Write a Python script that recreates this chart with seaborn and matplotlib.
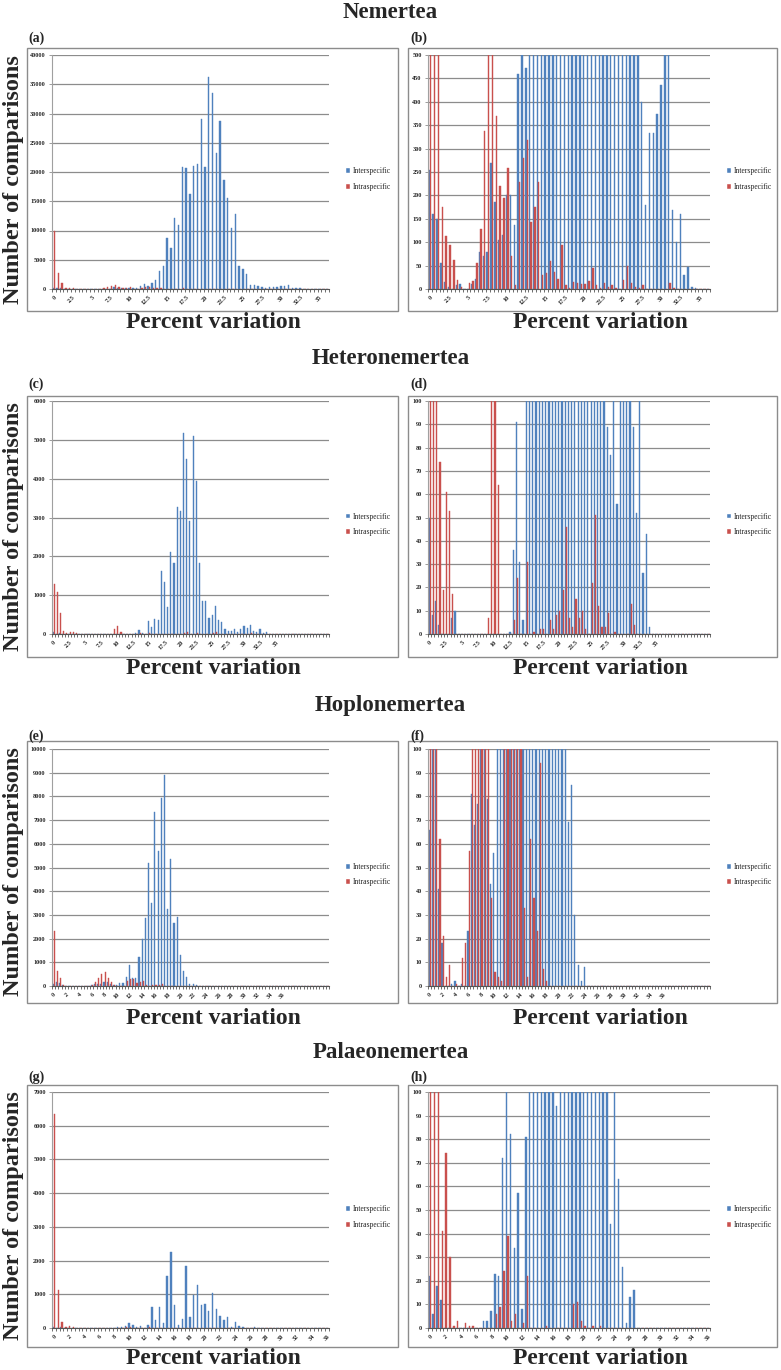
import numpy as np
import pandas as pd
import matplotlib
matplotlib.use("Agg")
import matplotlib.pyplot as plt
import seaborn as sns

# ------------------------------------------------------------------
# data: number of pairwise comparisons per 0.5 % bin
# ------------------------------------------------------------------
bins_36 = np.arange(0, 36.5, 0.5)   # 73 bins (Nemertea, Palaeonemertea)
bins_43 = np.arange(0, 43.5, 0.5)   # 87 bins (Heteronemertea, Hoplonemertea)

nem_inter = [255, 160, 150, 55, 15, 5, 0, 8, 10, 0,
             0, 10, 22, 80, 70, 78, 270, 185, 105, 115,
             200, 200, 137, 460, 800, 472, 1100, 1600, 3000, 4000,
             8700, 7000, 12100, 10900, 20900, 20700, 16200, 21000, 21300, 29000,
             20900, 36300, 33500, 23300, 28800, 18700, 15600, 10500, 12800, 4000,
             3500, 2600, 700, 600, 550, 400, 180, 333, 333, 375,
             435, 560, 620, 168, 100, 160, 30, 48, 5, 2,
             0, 0, 0]
nem_intra = [10000, 2800, 1000, 175, 113, 93, 62, 20, 5, 0,
             12, 18, 55, 128, 338, 560, 600, 370, 220, 195,
             258, 70, 8, 228, 280, 318, 143, 175, 228, 30,
             35, 60, 37, 22, 95, 8, 3, 15, 12, 10,
             10, 18, 45, 8, 3, 12, 5, 8, 2, 0,
             20, 50, 12, 5, 3, 8, 0, 0, 0, 0,
             0, 0, 12, 3, 0, 0, 0, 0, 0, 0,
             0, 0, 0]

het_inter = [50, 8, 14, 4, 0, 0, 0, 7, 10, 0,
             0, 0, 0, 0, 0, 0, 0, 0, 0, 0,
             0, 0, 0, 0, 0, 1, 36, 91, 31, 6,
             330, 170, 380, 360, 1620, 1350, 700, 2100, 1820, 3270,
             3180, 5170, 4500, 2900, 5090, 3940, 1830, 860, 850, 400,
             490, 720, 360, 300, 120, 89, 77, 120, 56, 130,
             200, 150, 240, 89, 52, 140, 26, 43, 3, 0,
             0, 0, 0, 0, 0, 0, 0, 0, 0, 0,
             0, 0, 0, 0, 0, 0, 0]
het_intra = [1290, 1080, 540, 74, 19, 61, 53, 17, 0, 0,
             0, 0, 0, 0, 0, 0, 0, 0, 7, 130,
             200, 64, 0, 0, 0, 0, 6, 24, 0, 0,
             31, 0, 1, 0, 2, 2, 0, 6, 2, 8,
             10, 19, 46, 7, 3, 15, 7, 10, 2, 0,
             22, 51, 12, 3, 3, 9, 0, 1, 0, 0,
             0, 0, 13, 4, 0, 0, 0, 0, 0, 0,
             0, 0, 0, 0, 0, 0, 0, 0, 0, 0,
             0, 0, 0, 0, 0, 0, 0]

hop_inter = [66, 150, 120, 41, 18, 0, 0, 1, 2, 0,
             1, 0, 23, 81, 68, 77, 150, 180, 79, 43,
             56, 110, 130, 380, 870, 350, 330, 1230, 2000, 2850,
             5200, 3500, 7350, 5700, 7950, 8900, 3250, 5350, 2650, 2920,
             1300, 620, 380, 69, 85, 30, 9, 2, 8, 0,
             0, 0, 0, 0, 0, 0, 0, 0, 0, 0,
             0, 0, 0, 0, 0, 0, 0, 0, 0, 0,
             0, 0, 0, 0, 0, 0, 0, 0, 0, 0,
             0, 0, 0, 0, 0, 0, 0]
hop_intra = [2300, 620, 350, 62, 21, 4, 9, 0, 1, 0,
             12, 18, 57, 150, 330, 520, 600, 350, 180, 37,
             6, 4, 2, 220, 300, 280, 140, 180, 210, 33,
             4, 62, 37, 23, 94, 7, 2, 0, 0, 0,
             0, 0, 0, 0, 0, 0, 0, 0, 0, 0,
             0, 0, 0, 0, 0, 0, 0, 0, 0, 0,
             0, 0, 0, 0, 0, 0, 0, 0, 0, 0,
             0, 0, 0, 0, 0, 0, 0, 0, 0, 0,
             0, 0, 0, 0, 0, 0, 0]

pal_inter = [22, 6, 18, 12, 0, 0, 0, 0, 0, 0,
             0, 0, 0, 0, 3, 3, 7, 23, 22, 72,
             140, 82, 34, 57, 8, 81, 610, 230, 630, 150,
             1540, 2250, 690, 94, 260, 1830, 340, 980, 1270, 690,
             710, 500, 1050, 570, 350, 230, 320, 44, 180, 63,
             26, 2, 13, 16, 0, 0, 0, 0, 0, 0,
             0, 0, 0, 0, 0, 0, 0, 0, 0, 0,
             0, 0, 0]
pal_intra = [6350, 1130, 170, 41, 74, 30, 1, 3, 0, 2,
             1, 1, 0, 0, 0, 0, 0, 6, 9, 24,
             39, 3, 6, 0, 2, 22, 0, 0, 0, 0,
             1, 0, 0, 0, 0, 0, 0, 10, 11, 3,
             1, 0, 1, 0, 1, 0, 0, 0, 0, 0,
             0, 0, 0, 0, 0, 0, 0, 0, 0, 0,
             0, 0, 0, 0, 0, 0, 0, 0, 0, 0,
             0, 0, 0]

labels_25 = ["0", "2.5", "5", "7.5", "10", "12.5", "15", "17.5", "20",
             "22.5", "25", "27.5", "30", "32.5", "35"]
labels_2 = [str(v) for v in range(0, 37, 2)]

groups = ["Nemertea", "Heteronemertea", "Hoplonemertea", "Palaeonemertea"]
series_names = ["Interspecific", "Intraspecific"]
colors = {"Interspecific": "#4f81bd", "Intraspecific": "#c9504d"}

# ------------------------------------------------------------------
# layout (pixels)
# ------------------------------------------------------------------
W, H = 781, 1370
sns.set_theme(style="white")
plt.rcParams["font.family"] = ["Liberation Serif", "DejaVu Serif"]

fig = plt.figure(figsize=(W / 100, H / 100), dpi=100)


def fbox(l, t, r, b):
    return [l / W, 1 - b / H, (r - l) / W, (b - t) / H]


rows = [
    # title y, panel-label y, frame top/bottom, plot top/bottom, xlabel y
    dict(title=12, lab=38, ft=48, fb=311, pt=55, pb=289, xl=323),
    dict(title=358, lab=384, ft=396, fb=657, pt=401, pb=634, xl=669),
    dict(title=706, lab=736, ft=741, fb=1003, pt=749, pb=986, xl=1018),
    dict(title=1052, lab=1077, ft=1085, fb=1347, pt=1092, pb=1328, xl=1358),
]

panels = [
    (nem_inter, nem_intra, bins_36, labels_25, 5, [40000, 500], [5000, 50]),
    (het_inter, het_intra, bins_43, labels_25, 5, [6000, 100], [1000, 10]),
    (hop_inter, hop_intra, bins_43, labels_2, 4, [10000, 100], [1000, 10]),
    (pal_inter, pal_intra, bins_36, labels_2, 4, [7000, 100], [1000, 10]),
]

letters = "abcdefgh"
cols = [
    dict(fl=27, fr=398, pl=52, pr=329, lab=28, xl=213),
    dict(fl=408, fr=777, pl=428, pr=710, lab=410, xl=600),
]

for r, (row, panel) in enumerate(zip(rows, panels)):
    inter, intra, bins, tlabels, step, ymaxes, ysteps = panel
    df = pd.DataFrame({
        "bin": np.concatenate([bins, bins]),
        "count": inter + intra,
        "series": ["Interspecific"] * len(bins) + ["Intraspecific"] * len(bins),
    })
    fig.text(0.5, 1 - row["title"] / H, groups[r], ha="center", va="center",
             fontsize=16.5, fontweight="bold")

    for c, col in enumerate(cols):
        # chart-area border
        fig.add_artist(plt.Rectangle((col["fl"] / W, 1 - row["fb"] / H),
                                     (col["fr"] - col["fl"]) / W,
                                     (row["fb"] - row["ft"]) / H,
                                     transform=fig.transFigure, fill=False,
                                     edgecolor="#8c8c8c", lw=1.0))
        fig.text(col["lab"] / W, 1 - row["lab"] / H, f"({letters[2 * r + c]})",
                 ha="left", va="center", fontsize=10, fontweight="bold")
        fig.text(col["xl"] / W, 1 - row["xl"] / H, "Percent variation",
                 ha="center", va="center", fontsize=17, fontweight="bold")

        ax = fig.add_axes(fbox(col["pl"], row["pt"], col["pr"], row["pb"]))
        sns.barplot(data=df, x="bin", y="count", hue="series",
                    hue_order=series_names, palette=colors, width=0.72,
                    saturation=1, linewidth=0.3, errorbar=None, ax=ax)
        for patch in ax.patches:
            patch.set_edgecolor(patch.get_facecolor())

        n = len(bins)
        ymax, ystep = ymaxes[c], ysteps[c]
        ax.set_xlim(-0.5, n - 0.5)
        ax.set_ylim(0, ymax)
        ax.set_yticks(np.arange(0, ymax + 1, ystep))
        ax.set_yticklabels([str(int(v)) for v in np.arange(0, ymax + 1, ystep)],
                           fontsize=4.5, fontweight="bold")
        ax.set_xticks(np.arange(0, step * len(tlabels), step))
        ax.set_xticklabels(tlabels, rotation=45, ha="right",
                           rotation_mode="anchor", fontsize=4.5, fontweight="bold")
        ax.set_xticks(np.arange(-0.5, n, 1), minor=True)
        ax.tick_params(axis="x", which="major", length=0, pad=4)
        ax.tick_params(axis="x", which="minor", length=2.5, width=0.6,
                       color="#555555", bottom=True)
        ax.tick_params(axis="y", which="major", length=2.5, width=0.6,
                       color="#8c8c8c", left=True, pad=2)
        ax.yaxis.grid(True, color="#8c8c8c", lw=0.9)
        ax.set_axisbelow(True)
        ax.set_xlabel("")
        ax.set_ylabel("")
        ax.set_facecolor("white")
        for s in ["top", "right"]:
            ax.spines[s].set_visible(False)
        ax.spines["left"].set_color("#a0a0a0")
        ax.spines["left"].set_linewidth(0.8)
        ax.spines["bottom"].set_color("#555555")
        ax.spines["bottom"].set_linewidth(0.8)

        sns.move_legend(ax, "center left", bbox_to_anchor=(1.035, 0.47),
                        frameon=False, title=None, fontsize=5.5,
                        handlelength=0.6, handleheight=0.6,
                        handletextpad=0.3, labelspacing=1.0)

    fig.text(14 / W, 1 - (row["ft"] + row["fb"]) / 2 / H, "Number of comparisons",
             rotation=90, ha="center", va="center", fontsize=17.5,
             fontweight="bold")

fig.savefig("out.png", dpi=100, facecolor="white")
